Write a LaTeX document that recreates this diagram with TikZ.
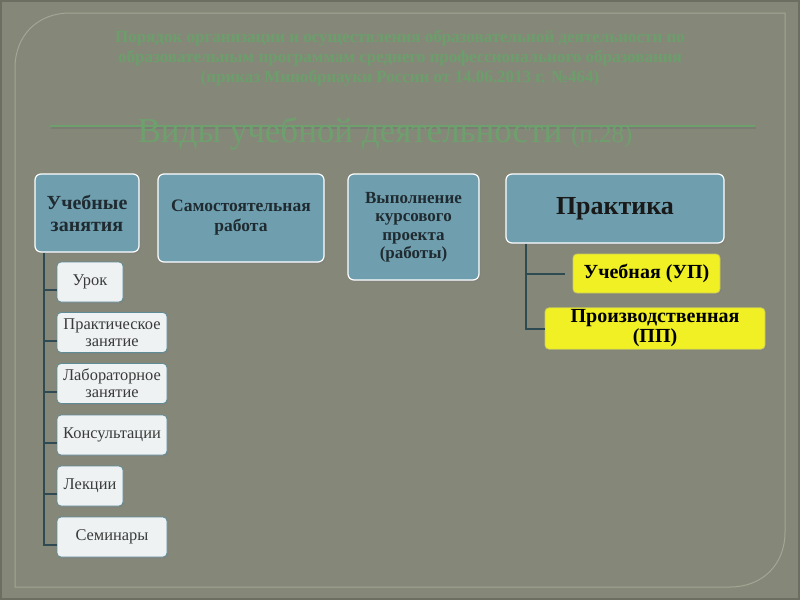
\documentclass[tikz,border=0pt]{standalone}
\usepackage{fontspec}
\setmainfont{Liberation Serif}
\usetikzlibrary{shadows,calc}
\definecolor{bg}{HTML}{858878}
\definecolor{framec}{HTML}{A3A694}
\definecolor{edgec}{HTML}{6C6E62}
\definecolor{ttl}{HTML}{6C9E6C}
\definecolor{ttlline}{HTML}{6EA06E}
\definecolor{teal}{HTML}{6F9FAF}
\definecolor{tealtxt}{HTML}{1F2B30}
\definecolor{wfill}{HTML}{EEF2F3}
\definecolor{wdraw}{HTML}{5F8B97}
\definecolor{wtxt}{HTML}{3A3A3A}
\definecolor{yfill}{HTML}{F0F024}
\definecolor{ydraw}{HTML}{C9C95A}
\definecolor{treec}{HTML}{2E4A52}
\tikzset{
  bluebox/.style={draw=white, line width=1.2pt, fill=teal, rounded corners=6pt,
    drop shadow={shadow xshift=2pt, shadow yshift=-2pt, opacity=0.45},
    text=tealtxt, font=\bfseries, align=center, inner sep=2pt},
  whitebox/.style={draw=wdraw, line width=0.8pt, fill=wfill, rounded corners=4pt,
    drop shadow={shadow xshift=1.5pt, shadow yshift=-1.5pt, opacity=0.45},
    text=wtxt, align=center, inner sep=2pt, minimum height=40pt,
    font=\fontsize{16.4}{17}\selectfont},
  yellowbox/.style={draw=ydraw, line width=0.8pt, fill=yfill, rounded corners=4pt,
    drop shadow={shadow xshift=1.5pt, shadow yshift=-1.5pt, opacity=0.45},
    text=black, align=center, inner sep=2pt,
    font=\bfseries\fontsize{20}{20}\selectfont},
  tree/.style={draw=treec, line width=2pt},
}
\begin{document}
\begin{tikzpicture}[x=1pt,y=-1pt]
\useasboundingbox (0,0) rectangle (800,600);
\fill[bg] (0,0) rectangle (800,600);
\draw[edgec, line width=2pt] (1,1) rectangle (799,599);
% frame
\draw[framec, line width=1pt] (15,587) -- (15,68) .. controls (15,35) and (38,13) .. (70,13)
  -- (785,13) -- (785,532) .. controls (785,565) and (762,587) .. (730,587) -- cycle;
% title
\node[text=ttl, font=\bfseries\fontsize{17}{20}\selectfont, align=center] (title) at (400,58)
  {Порядок организации и осуществления образовательной деятельности по\\
   образовательным программам среднего профессионального образования\\
   (приказ Минобрнауки России от 14.06.2013 г. №464)};
\draw[black!55, opacity=0.5, line width=2pt] (51,128) -- (756,128);
\draw[ttlline, line width=2pt] (50,126) -- (755,126);
\node[text=ttlline, font=\fontsize{35}{37}\selectfont, anchor=base] (sub) at (385,142)
  {Виды учебной деятельности {\fontsize{25}{27}\selectfont (п.28)}};
% blue boxes
\node[bluebox, minimum width=104pt, minimum height=78pt, font=\bfseries\fontsize{20}{22}\selectfont] (A) at (87,213) {Учебные\\занятия};
\node[bluebox, minimum width=166pt, minimum height=88pt, font=\bfseries\fontsize{17.5}{20}\selectfont] (B) at (241,218) {Самостоятельная\\работа};
\node[bluebox, minimum width=131pt, minimum height=106pt, font=\bfseries\fontsize{17}{18.5}\selectfont] (C) at (413.5,227) {Выполнение\\курсового\\проекта\\(работы)};
\node[bluebox, minimum width=218pt, minimum height=69pt, font=\bfseries\fontsize{26}{28}\selectfont, text=black!90] (D) at (615,208.5) {Практика};
% yellow boxes
\node[yellowbox, minimum width=147pt, minimum height=39pt] (up) at (646.5,273.5) {Учебная (УП)};
\node[yellowbox, minimum width=220pt, minimum height=41pt] (pp) at (655,328.5) {Производственная\\(ПП)};
% white boxes
\node[whitebox, minimum width=66pt] (w1) at (90,282) {Урок};
\node[whitebox, minimum width=110pt] (w2) at (112,332.5) {Практическое\\занятие};
\node[whitebox, minimum width=110pt] (w3) at (112,383.5) {Лабораторное\\занятие};
\node[whitebox, minimum width=110pt] (w4) at (112,435) {Консультации};
\node[whitebox, minimum width=66pt] (w5) at (90,486) {Лекции};
\node[whitebox, minimum width=110pt] (w6) at (112,537) {Семинары};
% left tree
\coordinate (ta) at ($(A.south west)+(10,0)$);
\foreach \n in {w1,w2,w3,w4,w5,w6}{
  \coordinate (b\n) at ($(\n.south west)+(0,-12)$);
}
\draw[tree] (ta) |- (bw6);
\foreach \n in {w1,w2,w3,w4,w5}{
  \draw[tree] (ta |- b\n) -- (b\n);
}
% right tree
\coordinate (tb) at ($(D.south west)+(21,0)$);
\coordinate (bup) at ($(up.west)+(-8,0)$);
\draw[tree] (tb) |- (pp.west);
\draw[tree] (tb |- bup) -- (bup);
\end{tikzpicture}
\end{document}
